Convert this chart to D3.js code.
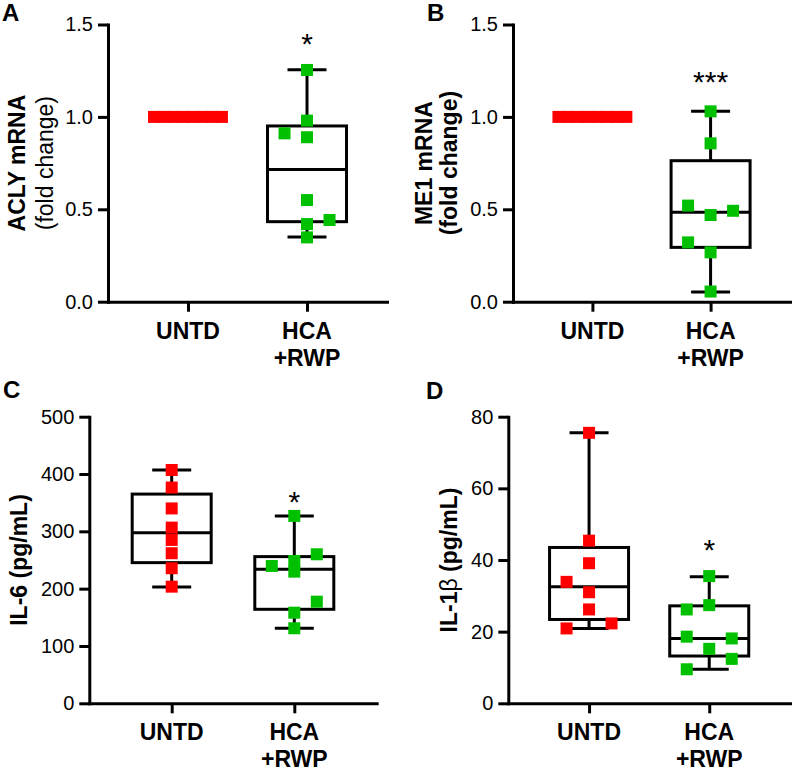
<!DOCTYPE html>
<html><head><meta charset="utf-8">
<script src="https://cdn.jsdelivr.net/npm/d3@7"></script>
<style>body{margin:0;background:#fff}</style>
</head><body><svg id="c" width="797" height="772"></svg>
<script>
// ---------- DATA ----------
const categories = ["UNTD", "HCA +RWP"];
const categoryLines = [["UNTD"], ["HCA", "+RWP"]];

// Panel A: ACLY mRNA (fold change)
const aclyUNTD = [1, 1, 1, 1, 1, 1, 1, 1];
const aclyHCA = [1.254, 0.98, 0.911, 0.89, 0.55, 0.442, 0.42, 0.348];
const aclyUNTDLane = [-3.5, -2.5, -1.5, -0.5, 0.5, 1.5, 2.5, 3.5];
const aclyHCALane = [0, 0, -1, 0, 0, 1, 0, 0];
const aclyBoxUNTD = [1, 1, 1, 1, 1];               // min, q1, median, q3, max
const aclyBoxHCA = [0.35, 0.433, 0.716, 0.951, 1.255];

// Panel B: ME1 mRNA (fold change)
const me1UNTD = [1, 1, 1, 1, 1, 1, 1, 1];
const me1HCA = [1.03, 0.857, 0.52, 0.492, 0.469, 0.321, 0.267, 0.055];
const me1UNTDLane = [-3.5, -2.5, -1.5, -0.5, 0.5, 1.5, 2.5, 3.5];
const me1HCALane = [0, 0, -1, 1, 0, -1, 0, 0];
const me1BoxUNTD = [1, 1, 1, 1, 1];
const me1BoxHCA = [0.053, 0.294, 0.484, 0.763, 1.03];

// Panel C: IL-6 (pg/mL)
const il6UNTD = [407, 376.4, 340, 306.5, 285, 261.8, 235.6, 203.5];
const il6HCA = [326.9, 260, 248.3, 239.6, 229.7, 177.3, 158.1, 130.9];
const il6UNTDLane = [0, 0, 0, 0, 0, 0, 0, 0];
const il6HCALane = [0, 1, 0, -1, 0, 1, 0, 0];
const il6BoxUNTD = [203, 245.4, 297.7, 365, 407];
const il6BoxHCA = [130.9, 164, 233.8, 255.9, 326.9];

// Panel D: IL-1β (pg/mL)
const il1bUNTD = [75.5, 45.4, 39.1, 33.9, 31, 26.2, 22.3, 20.9];
const il1bHCA = [35.5, 27.4, 26.2, 18.6, 18.1, 15.2, 12.4, 9.5];
const il1bUNTDLane = [0, 0, 0, -1, 0, 0, 1, -1];
const il1bHCALane = [0, 0, -1, -1, 1, 0, 1, -1];
const il1bBoxUNTD = [20.9, 23.4, 32.5, 43.5, 75.5];
const il1bBoxHCA = [9.5, 13.2, 18.1, 27.2, 35.3];

// Tick labels
const ticksFold = [0, 0.5, 1.0, 1.5];
const ticksIL6 = [0, 100, 200, 300, 400, 500];
const ticksIL1b = [0, 20, 40, 60, 80];

// Significance marks (label, level in data units)
const sigLabels = ["*", "***", "*", "*"];
const sigLevels = [1.43, 1.227, 363.4, 44.7];

// ---------- LAYOUT / STYLE ----------
const FONT = "'Liberation Sans', Arial, Helvetica, sans-serif";
const RED = "#ff0000", GREEN = "#00c000";
const svg = d3.select("#c");
svg.append("rect").attr("width", 797).attr("height", 772).attr("fill", "#fff");

const panels = [
  { letter: "A", lx: 2, ly: 21, ax: 108, x1: 387, yTop: 24.5, yBot: 301.7, domain: [0, 1.5], ticks: ticksFold, fmt: d3.format(".1f"),
    groups: [[aclyUNTD, aclyUNTDLane, aclyBoxUNTD, RED], [aclyHCA, aclyHCALane, aclyBoxHCA, GREEN]],
    titles: [{ parts: [["ACLY mRNA", "bold"]], bx: 25 }, { parts: [["(fold change)", "normal"]], bx: 53 }], sig: 0 },
  { letter: "B", lx: 427, ly: 21, ax: 513, x1: 790, yTop: 24.5, yBot: 301.7, domain: [0, 1.5], ticks: ticksFold, fmt: d3.format(".1f"),
    groups: [[me1UNTD, me1UNTDLane, me1BoxUNTD, RED], [me1HCA, me1HCALane, me1BoxHCA, GREEN]],
    titles: [{ parts: [["ME1 mRNA", "bold"]], bx: 431.5 }, { parts: [["(fold change)", "bold"]], bx: 457 }], sig: 1 },
  { letter: "C", lx: 3, ly: 398, ax: 89.3, x1: 376.7, yTop: 416.7, yBot: 703.3, domain: [0, 500], ticks: ticksIL6, fmt: d3.format("d"),
    groups: [[il6UNTD, il6UNTDLane, il6BoxUNTD, RED], [il6HCA, il6HCALane, il6BoxHCA, GREEN]],
    titles: [{ parts: [["IL-6 (pg/mL)", "bold"]], bx: 27 }], sig: 2 },
  { letter: "D", lx: 426, ly: 399, ax: 508.3, x1: 790, yTop: 416.7, yBot: 703.3, domain: [0, 80], ticks: ticksIL1b, fmt: d3.format("d"),
    groups: [[il1bUNTD, il1bUNTDLane, il1bBoxUNTD, RED], [il1bHCA, il1bHCALane, il1bBoxHCA, GREEN]],
    titles: [{ parts: [["IL-1", "bold"], ["β", "normal"], [" (pg/mL)", "bold"]], bx: 457 }], sig: 3 }
];

const BOXW = 79, CAPW = 39, SQ = 12, LANE = 22.5, ROWSTEP = 9.7, SW = 3;

panels.forEach(p => {
  const g = svg.append("g");
  const y = d3.scaleLinear().domain(p.domain).range([p.yBot, p.yTop]);
  const x = d3.scalePoint().domain(categories).range([p.ax, p.x1]).padding(0.672);

  // panel letter
  g.append("text").attr("x", p.lx).attr("y", p.ly).attr("font-family", FONT).attr("font-weight", "bold")
    .attr("font-size", 24).text(p.letter);

  // y axis
  g.append("g").attr("transform", `translate(${p.ax},0)`)
    .call(d3.axisLeft(y).tickValues(p.ticks).tickFormat(p.fmt).tickSize(10).tickSizeOuter(0).tickPadding(5))
    .call(a => {
      a.select(".domain").attr("stroke-width", SW).attr("stroke-linecap", "square").attr("stroke", "#000");
      a.selectAll(".tick line").attr("stroke-width", SW).attr("stroke", "#000");
      a.selectAll(".tick text").attr("font-size", 20).attr("font-family", FONT).attr("fill", "#000");
    });

  // x axis
  g.append("g").attr("transform", `translate(0,${p.yBot})`)
    .call(d3.axisBottom(x).tickSize(10).tickSizeOuter(0).tickFormat(""))
    .call(a => {
      a.select(".domain").attr("stroke-width", SW).attr("stroke-linecap", "square").attr("stroke", "#000");
      a.selectAll(".tick line").attr("stroke-width", SW).attr("stroke", "#000");
    });

  // x labels
  categories.forEach((c, i) => {
    const t = g.append("text").attr("text-anchor", "middle").attr("font-family", FONT)
      .attr("font-weight", "bold").attr("font-size", 23).attr("y", p.yBot + 37);
    categoryLines[i].forEach((ln, j) => t.append("tspan").attr("x", x(c)).attr("dy", j ? 27 : 0).text(ln));
  });

  // y titles
  const cy = (p.yTop + p.yBot) / 2;
  p.titles.forEach(tt => {
    const t = g.append("text").attr("transform", `translate(${tt.bx},${cy}) rotate(-90)`)
      .attr("text-anchor", "middle").attr("font-family", FONT).attr("font-size", 23);
    tt.parts.forEach(pt => t.append("tspan").attr("font-weight", pt[1]).text(pt[0]));
  });

  // boxes, whiskers, points
  p.groups.forEach((grp, i) => {
    const [vals, lanes, box, col] = grp;
    const cx = x(categories[i]);
    const [mn, q1, md, q3, mx] = box;
    const bg = g.append("g").attr("stroke", "#000").attr("stroke-width", SW).attr("fill", "none");
    bg.append("line").attr("x1", cx).attr("x2", cx).attr("y1", y(mx)).attr("y2", y(q3));
    bg.append("line").attr("x1", cx).attr("x2", cx).attr("y1", y(q1)).attr("y2", y(mn));
    bg.append("line").attr("x1", cx - CAPW / 2).attr("x2", cx + CAPW / 2).attr("y1", y(mx)).attr("y2", y(mx));
    bg.append("line").attr("x1", cx - CAPW / 2).attr("x2", cx + CAPW / 2).attr("y1", y(mn)).attr("y2", y(mn));
    bg.append("rect").attr("x", cx - BOXW / 2).attr("y", y(q3)).attr("width", BOXW).attr("height", Math.max(0, y(q1) - y(q3)));
    bg.append("line").attr("x1", cx - BOXW / 2).attr("x2", cx + BOXW / 2).attr("y1", y(md)).attr("y2", y(md));

    const allEqual = d3.min(vals) === d3.max(vals);
    const step = allEqual ? ROWSTEP : LANE;
    g.append("g").selectAll("rect").data(vals).join("rect")
      .attr("x", (d, k) => cx + lanes[k] * step - SQ / 2)
      .attr("y", d => y(d) - SQ / 2)
      .attr("width", SQ).attr("height", SQ).attr("fill", col);
  });

  // significance mark
  g.append("text").attr("x", x(categories[1])).attr("y", y(sigLevels[p.sig]) + 17)
    .attr("text-anchor", "middle").attr("font-family", FONT).attr("font-size", 30).text(sigLabels[p.sig]);
});
</script></body></html>
